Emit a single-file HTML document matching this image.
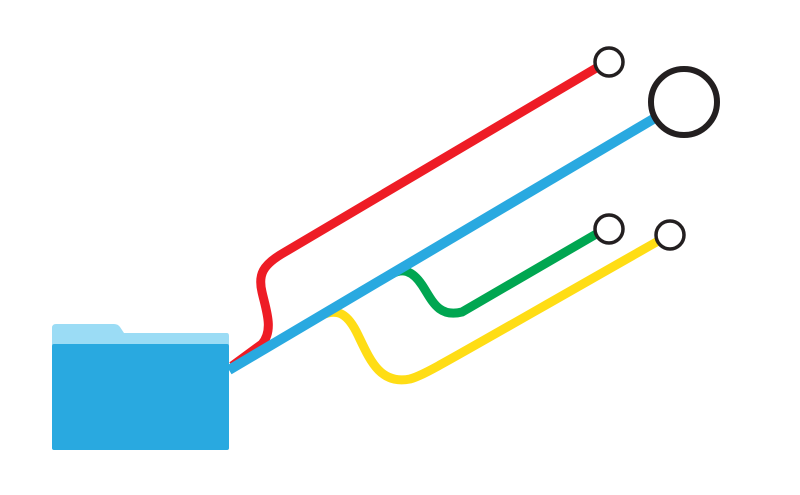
<!DOCTYPE html>
<html><head><style>html,body{margin:0;padding:0;background:#fff;width:800px;height:495px;overflow:hidden}</style></head>
<body>
<svg width="800" height="495" viewBox="0 0 800 495" xmlns="http://www.w3.org/2000/svg">
<!-- folder -->
<path d="M52,328 Q52,324 56,324 L114,324 Q118,324 120,327 L124,333 L227,333 Q229,333 229,336 L229,345 L52,345 Z" fill="#9bdcf5"/>
<rect x="52" y="344" width="177" height="106" rx="2" fill="#29a9e0"/>
<g fill="none" stroke-width="9" stroke-linecap="butt">
<path d="M232,366 L262,344 C274,330 266,310 262,292 C258,275 262,265 285,252 L598,67" stroke="#ee1c25"/>
<path d="M360,292 L392,274 C402,268 412,270 422,285 C432,300 438,318 462,312 L598,233" stroke="#00a651"/>
<path d="M290,334 L322,315 C338,308 348,314 358,335 C370,360 380,385 410,379 C425,375 440,365 660,240" stroke="#ffdd15"/>
<path d="M229,370 L655,118" stroke="#29a9e0" stroke-width="10"/>
</g>
<g fill="#fff" stroke="#231f20">
<circle cx="609" cy="62" r="14" stroke-width="3.5"/>
<circle cx="684" cy="102" r="33" stroke-width="6"/>
<circle cx="609" cy="229" r="14" stroke-width="3.5"/>
<circle cx="670" cy="235" r="14" stroke-width="3.5"/>
</g>
</svg>
</body></html>
